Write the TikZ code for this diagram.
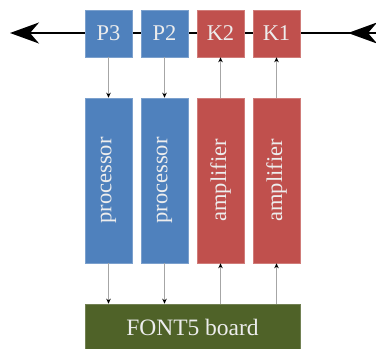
\documentclass[tikz,border=0pt]{standalone}
\usepackage{graphicx}
\usepackage{fontspec}
\setmainfont{Liberation Serif}
\usetikzlibrary{arrows.meta}
\definecolor{pblue}{HTML}{4F81BD}
\definecolor{kred}{HTML}{C0504D}
\definecolor{bgreen}{HTML}{4F6228}
\begin{document}
\begin{tikzpicture}[x=1pt,y=-1pt,
  box/.style={minimum width=47pt, inner sep=0pt, line width=0.6pt, text=white!93!black, font=\fontsize{22.5}{26}\selectfont},
  bluebox/.style={box, fill=pblue, draw=pblue!75!white},
  redbox/.style={box, fill=kred, draw=kred!75!white},
  smallbox/.style={minimum height=47pt},
  tallbox/.style={minimum height=165pt},
  conn/.style={draw=black!35, line width=1.2pt, -{Stealth[length=5pt,width=4.5pt,black]}},
  beam/.style={line width=2pt, -{Stealth[length=29pt,width=21pt,inset=9pt]}}]
\useasboundingbox (0,0) rectangle (376,349);
\coordinate (R) at (376,33);
\coordinate (L) at (10,33);
\coordinate (Rt) at (348,33);
\draw[beam] (R) -- (L);
\draw[beam] (R) -- (Rt);
\node[bluebox, smallbox] (P3) at (108.5,33.5) {P3};
\node[bluebox, smallbox] (P2) at (164.5,33.5) {P2};
\node[redbox, smallbox] (K2) at (220.5,33.5) {K2};
\node[redbox, smallbox] (K1) at (276.5,33.5) {K1};
\node[bluebox, tallbox] (pr3) at (108.5,180.5) {\rotatebox{90}{processor}};
\node[bluebox, tallbox] (pr2) at (164.5,180.5) {\rotatebox{90}{processor}};
\node[redbox, tallbox] (am2) at (220.5,180.5) {\rotatebox{90}{amplifier}};
\node[redbox, tallbox] (am1) at (276.5,180.5) {\rotatebox{90}{amplifier}};
\node[box, fill=bgreen, draw=bgreen!80!white, minimum width=215pt, minimum height=46pt, font=\fontsize{23.5}{27}\selectfont] (board) at (192.5,327) {FONT5 board};
\draw[conn] (P3.south) -- (pr3.north);
\draw[conn] (P2.south) -- (pr2.north);
\draw[conn] (am2.north) -- (K2.south);
\draw[conn] (am1.north) -- (K1.south);
\draw[conn] (pr3.south) -- (board.north -| pr3);
\draw[conn] (pr2.south) -- (board.north -| pr2);
\draw[conn] (board.north -| am2) -- (am2.south);
\draw[conn] (board.north -| am1) -- (am1.south);
\end{tikzpicture}
\end{document}
